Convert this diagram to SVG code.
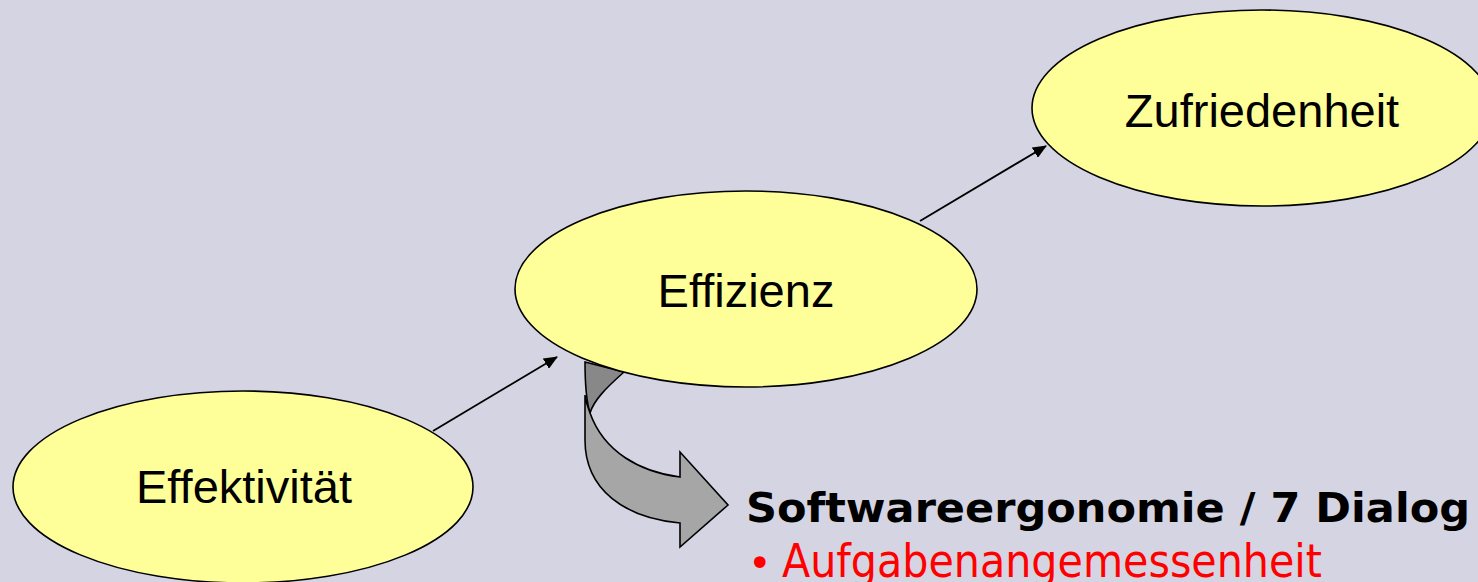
<svg xmlns="http://www.w3.org/2000/svg" width="1478" height="582" viewBox="0 0 1478 582">
<defs>
<style>
.node{fill:#FFFF99;stroke:#000;stroke-width:1.6}
.lbl{font-family:"Liberation Sans",Arial,sans-serif;font-size:47px;fill:#000;text-anchor:middle}
.conn{stroke:#000;stroke-width:1.8;fill:none}
</style>
<marker id="ah" viewBox="0 0 14 12" refX="13" refY="6" markerWidth="14" markerHeight="12" markerUnits="userSpaceOnUse" orient="auto">
<path d="M0,0 L14,6 L0,12 Z" fill="#000"/>
</marker>
</defs>
<rect width="1478" height="582" fill="#D4D4E2"/>
<g id="bent-arrow">
<path d="M585,362 L624,372 C606,388 594,400 590,413 C586,400 585,385 585,362 Z" fill="#888888" stroke="#000" stroke-width="1.6"/>
<path d="M590,413 C604,452 640,472 680,477 L680,452 L728,505 L680,547 L680,523 C625,518 585,490 585,440 L585,395 C586,402 588,408 590,413 Z" fill="#A6A6A6" stroke="#000" stroke-width="1.6" stroke-linejoin="miter"/>
</g>
<g id="connectors">
<line class="conn" x1="433" y1="431" x2="557" y2="357" marker-end="url(#ah)"/>
<line class="conn" x1="920" y1="221" x2="1046" y2="146" marker-end="url(#ah)"/>
</g>
<g id="effektivitaet">
<ellipse class="node" cx="243" cy="487" rx="230" ry="96"/>
<text class="lbl" x="244" y="503" font-size="40">Effektivität</text>
</g>
<g id="effizienz">
<ellipse class="node" cx="746" cy="289" rx="231" ry="98"/>
<text class="lbl" x="746" y="307">Effizienz</text>
</g>
<g id="zufriedenheit">
<ellipse class="node" cx="1262" cy="108" rx="230" ry="98"/>
<text class="lbl" x="1262" y="127">Zufriedenheit</text>
</g>
<g id="textblock">
<text x="746" y="522" font-family="'DejaVu Sans',Verdana,sans-serif" font-weight="bold" font-size="40" fill="#000" textLength="724" lengthAdjust="spacingAndGlyphs">Softwareergonomie / 7 Dialog</text>
<text x="748" y="577" font-family="'DejaVu Sans',Verdana,sans-serif" font-size="40" fill="#FF0000">•</text>
<text x="782" y="577" font-family="'DejaVu Sans',Verdana,sans-serif" font-size="46" fill="#FF0000" textLength="540" lengthAdjust="spacingAndGlyphs">Aufgabenangemessenheit</text>
</g>
</svg>
